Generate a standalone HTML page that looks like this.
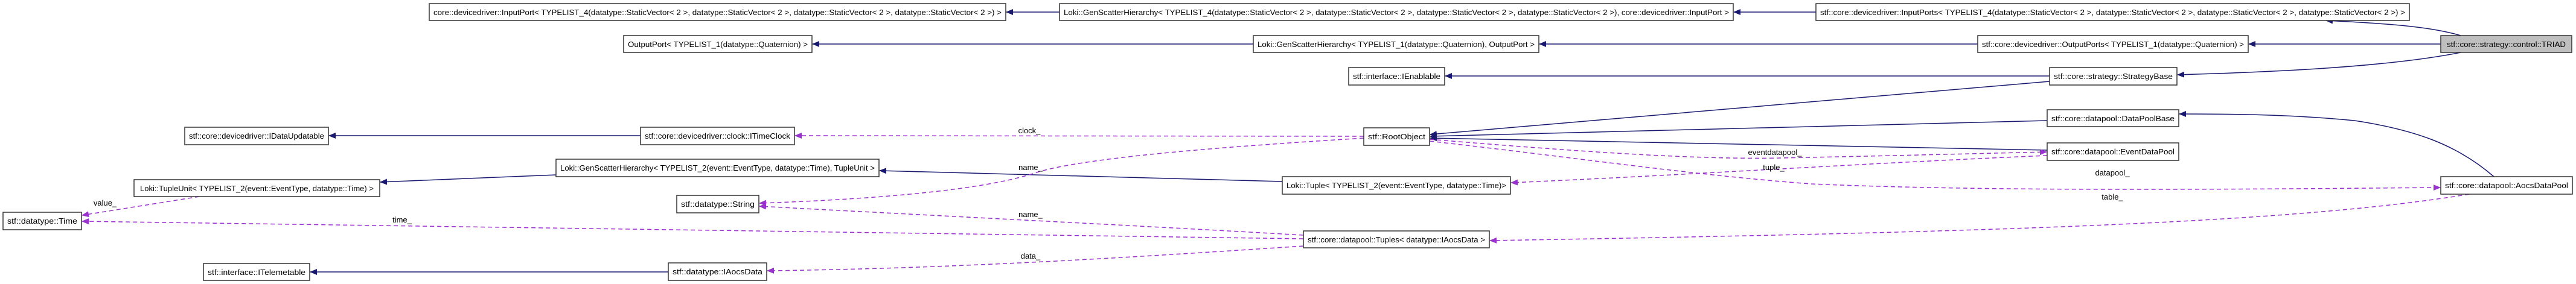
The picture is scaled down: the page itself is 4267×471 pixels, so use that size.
<!DOCTYPE html>
<html><head><meta charset="utf-8"><style>
html,body{margin:0;padding:0;background:#fff;}
svg{display:block;}
text{font-family:"Liberation Sans",sans-serif;font-size:13px;fill:#000;}
.b{fill:#fff;stroke:#333;stroke-width:1.5;}
.s{fill:none;stroke:#191970;stroke-width:1.5;}
.d{fill:none;stroke:#9a32cd;stroke-width:1.5;stroke-dasharray:7,5;}
</style></head><body>
<svg width="4267" height="471" viewBox="0 0 4267 471" xmlns="http://www.w3.org/2000/svg">
<defs>
<marker id="an" markerWidth="12" markerHeight="10" refX="11" refY="5" orient="auto" markerUnits="userSpaceOnUse"><path d="M0,0 L12,5 L0,10 z" fill="#191970"/></marker>
<marker id="ap" markerWidth="12" markerHeight="10" refX="11" refY="5" orient="auto" markerUnits="userSpaceOnUse"><path d="M0,0 L12,5 L0,10 z" fill="#9a32cd"/></marker>
</defs>

<!-- solid edges -->
<path class="s" marker-end="url(#an)" d="M1755,20 L1667,20"/>
<path class="s" marker-end="url(#an)" d="M3008,20 L2872,20"/>
<path class="s" marker-end="url(#an)" d="M4076,59 C4020,42 3930,38 3853,34"/>
<path class="s" marker-end="url(#an)" d="M2076,73 L1346,73"/>
<path class="s" marker-end="url(#an)" d="M3276,73 L2550,73"/>
<path class="s" marker-end="url(#an)" d="M4043,73 L3725,73"/>
<path class="s" marker-end="url(#an)" d="M4076,87 C3950,112 3750,120 3607,124"/>
<path class="s" marker-end="url(#an)" d="M3395,126 L2394,126"/>
<path class="s" marker-end="url(#an)" d="M3395,135 L2369,223"/>
<path class="s" marker-end="url(#an)" d="M3391,200 L2369,226"/>
<path class="s" marker-end="url(#an)" d="M3391,249 L2369,229"/>
<path class="s" marker-end="url(#an)" d="M4131,293 C4070,240 4000,215 3900,200 C3800,190 3700,189 3610,189"/>
<path class="s" marker-end="url(#an)" d="M1061,225 L545,225"/>
<path class="s" marker-end="url(#an)" d="M921,290 L630,302"/>
<path class="s" marker-end="url(#an)" d="M2124,301 L1457,283"/>
<path class="s" marker-end="url(#an)" d="M1107,451 L514,451"/>

<!-- dashed edges -->
<path class="d" marker-end="url(#ap)" d="M2259,226 L1317,225"/>
<path class="d" marker-end="url(#ap)" d="M2259,229 C2000,245 1800,262 1720,285 C1620,320 1400,332 1258,337"/>
<path class="d" marker-end="url(#ap)" d="M2368,231 C2600,250 2800,265 2950,262 C3150,258 3300,254 3390,252"/>
<path class="d" marker-end="url(#ap)" d="M3391,258 C3100,270 2800,290 2503,303"/>
<path class="d" marker-end="url(#ap)" d="M2368,234 C2600,260 2800,290 3000,305 C3300,318 3700,314 4042,311"/>
<path class="d" marker-end="url(#ap)" d="M4090,322 C3800,370 3300,385 2468,399"/>
<path class="d" marker-end="url(#ap)" d="M2159,390 C1900,375 1500,355 1258,342"/>
<path class="d" marker-end="url(#ap)" d="M2159,396 L136,367"/>
<path class="d" marker-end="url(#ap)" d="M2159,408 C1900,425 1600,445 1271,449"/>
<path class="d" marker-end="url(#ap)" d="M330,326 L136,357"/>

<!-- labels -->
<text x="1705" y="221" text-anchor="middle">clock_</text>
<text x="1707" y="282" text-anchor="middle">name_</text>
<text x="2940" y="257" text-anchor="middle">eventdatapool_</text>
<text x="2938" y="282" text-anchor="middle">tuple_</text>
<text x="3499" y="291" text-anchor="middle">datapool_</text>
<text x="3499" y="331" text-anchor="middle">table_</text>
<text x="1707" y="360" text-anchor="middle">name_</text>
<text x="666" y="369" text-anchor="middle">time_</text>
<text x="1707" y="429" text-anchor="middle">data_</text>
<text x="174" y="341" text-anchor="middle">value_</text>

<!-- nodes -->
<g>
<rect class="b" x="711" y="6" width="955" height="28"/><text x="718" y="25" textLength="941" lengthAdjust="spacingAndGlyphs">core::devicedriver::InputPort&lt; TYPELIST_4(datatype::StaticVector&lt; 2 &gt;, datatype::StaticVector&lt; 2 &gt;, datatype::StaticVector&lt; 2 &gt;, datatype::StaticVector&lt; 2 &gt;) &gt;</text>
<rect class="b" x="1755" y="6" width="1116" height="28"/><text x="1762" y="25" textLength="1102" lengthAdjust="spacingAndGlyphs">Loki::GenScatterHierarchy&lt; TYPELIST_4(datatype::StaticVector&lt; 2 &gt;, datatype::StaticVector&lt; 2 &gt;, datatype::StaticVector&lt; 2 &gt;, datatype::StaticVector&lt; 2 &gt;), core::devicedriver::InputPort &gt;</text>
<rect class="b" x="3008" y="6" width="983" height="28"/><text x="3015" y="25" textLength="969" lengthAdjust="spacingAndGlyphs">stf::core::devicedriver::InputPorts&lt; TYPELIST_4(datatype::StaticVector&lt; 2 &gt;, datatype::StaticVector&lt; 2 &gt;, datatype::StaticVector&lt; 2 &gt;, datatype::StaticVector&lt; 2 &gt;) &gt;</text>
<rect class="b" x="1033" y="59" width="312" height="28"/><text x="1040" y="78" textLength="298" lengthAdjust="spacingAndGlyphs">OutputPort&lt; TYPELIST_1(datatype::Quaternion) &gt;</text>
<rect class="b" x="2076" y="59" width="473" height="28"/><text x="2083" y="78" textLength="459" lengthAdjust="spacingAndGlyphs">Loki::GenScatterHierarchy&lt; TYPELIST_1(datatype::Quaternion), OutputPort &gt;</text>
<rect class="b" x="3276" y="59" width="448" height="28"/><text x="3283" y="78" textLength="434" lengthAdjust="spacingAndGlyphs">stf::core::devicedriver::OutputPorts&lt; TYPELIST_1(datatype::Quaternion) &gt;</text>
<rect x="4043" y="59" width="217" height="28" fill="#bfbfbf" stroke="#333" stroke-width="1.5"/><text x="4053" y="78" textLength="197" lengthAdjust="spacingAndGlyphs">stf::core::strategy::control::TRIAD</text>
<rect class="b" x="2234" y="112" width="159" height="29"/><text x="2241" y="131" textLength="145" lengthAdjust="spacingAndGlyphs">stf::interface::IEnablable</text>
<rect class="b" x="3395" y="112" width="211" height="29"/><text x="3402" y="131" textLength="197" lengthAdjust="spacingAndGlyphs">stf::core::strategy::StrategyBase</text>
<rect class="b" x="3391" y="182" width="218" height="28"/><text x="3398" y="201" textLength="204" lengthAdjust="spacingAndGlyphs">stf::core::datapool::DataPoolBase</text>
<rect class="b" x="306" y="211" width="238" height="29"/><text x="313" y="230" textLength="224" lengthAdjust="spacingAndGlyphs">stf::core::devicedriver::IDataUpdatable</text>
<rect class="b" x="1061" y="211" width="255" height="29"/><text x="1068" y="230" textLength="241" lengthAdjust="spacingAndGlyphs">stf::core::devicedriver::clock::ITimeClock</text>
<rect class="b" x="2259" y="212" width="109" height="29"/><text x="2266" y="231" textLength="95" lengthAdjust="spacingAndGlyphs">stf::RootObject</text>
<rect class="b" x="3391" y="237" width="218" height="29"/><text x="3398" y="256" textLength="204" lengthAdjust="spacingAndGlyphs">stf::core::datapool::EventDataPool</text>
<rect class="b" x="921" y="264" width="535" height="29"/><text x="928" y="283" textLength="521" lengthAdjust="spacingAndGlyphs">Loki::GenScatterHierarchy&lt; TYPELIST_2(event::EventType, datatype::Time), TupleUnit &gt;</text>
<rect class="b" x="222" y="298" width="407" height="28"/><text x="232" y="317" textLength="387" lengthAdjust="spacingAndGlyphs">Loki::TupleUnit&lt; TYPELIST_2(event::EventType, datatype::Time) &gt;</text>
<rect class="b" x="2124" y="293" width="378" height="29"/><text x="2131" y="312" textLength="364" lengthAdjust="spacingAndGlyphs">Loki::Tuple&lt; TYPELIST_2(event::EventType, datatype::Time)&gt;</text>
<rect class="b" x="4043" y="293" width="218" height="29"/><text x="4050" y="312" textLength="204" lengthAdjust="spacingAndGlyphs">stf::core::datapool::AocsDataPool</text>
<rect class="b" x="1121" y="324" width="136" height="29"/><text x="1128" y="343" textLength="122" lengthAdjust="spacingAndGlyphs">stf::datatype::String</text>
<rect class="b" x="5" y="352" width="130" height="29"/><text x="12" y="371" textLength="116" lengthAdjust="spacingAndGlyphs">stf::datatype::Time</text>
<rect class="b" x="2159" y="383" width="308" height="28"/><text x="2166" y="402" textLength="294" lengthAdjust="spacingAndGlyphs">stf::core::datapool::Tuples&lt; datatype::IAocsData &gt;</text>
<rect class="b" x="337" y="437" width="176" height="28"/><text x="344" y="456" textLength="162" lengthAdjust="spacingAndGlyphs">stf::interface::ITelemetable</text>
<rect class="b" x="1107" y="436" width="163" height="29"/><text x="1114" y="455" textLength="149" lengthAdjust="spacingAndGlyphs">stf::datatype::IAocsData</text>
</g>
</svg>
</body></html>
